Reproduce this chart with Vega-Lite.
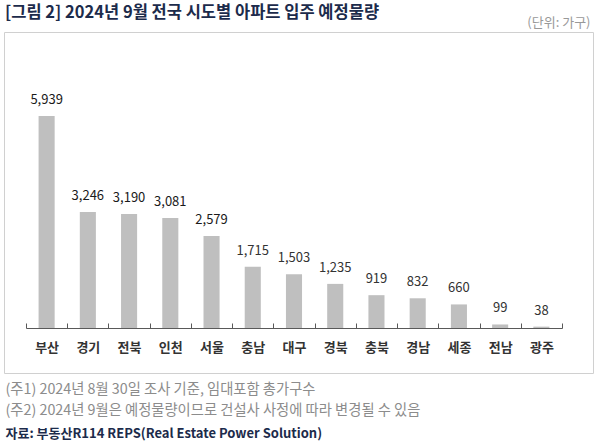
{
  "$schema": "https://vega.github.io/schema/vega-lite/v6.json",
  "autosize": "none",
  "width": 589,
  "height": 341,
  "padding": {"left": 4, "top": 32, "right": 7, "bottom": 72},
  "background": "white",
  "config": {
    "font": "Noto Sans CJK KR",
    "view": {"stroke": "#d0d0d0", "strokeWidth": 1}
  },
  "title": {
    "text": "[그림 2] 2024년 9월 전국 시도별 아파트 입주 예정물량",
    "anchor": "start",
    "frame": "group",
    "fontSize": 16.5,
    "fontWeight": "bold",
    "color": "#1c2b4b",
    "offset": -5,
    "dx": 1
  },
  "data": {
    "values": [
      {"region": "부산", "v": 5939},
      {"region": "경기", "v": 3246},
      {"region": "전북", "v": 3190},
      {"region": "인천", "v": 3081},
      {"region": "서울", "v": 2579},
      {"region": "충남", "v": 1715},
      {"region": "대구", "v": 1503},
      {"region": "경북", "v": 1235},
      {"region": "충북", "v": 919},
      {"region": "경남", "v": 832},
      {"region": "세종", "v": 660},
      {"region": "전남", "v": 99},
      {"region": "광주", "v": 38}
    ]
  },
  "encoding": {
    "x": {
      "field": "region",
      "type": "nominal",
      "sort": null,
      "scale": {"type": "band", "range": [22, 558], "paddingInner": 0, "paddingOuter": 0}
    },
    "y": {
      "field": "v",
      "type": "quantitative",
      "scale": {"domain": [0, 7000], "range": [296, 46], "nice": false, "zero": true}
    }
  },
  "layer": [
    {
      "mark": {"type": "bar", "color": "#bfbfbf", "width": {"band": 0.39}},
      "encoding": {
        "x": {
          "field": "region",
          "type": "nominal",
          "sort": null,
          "axis": {
            "orient": "bottom",
            "offset": -45,
            "tickBand": "extent",
            "domainColor": "#595959",
            "tickColor": "#595959",
            "tickSize": -5,
            "labelAngle": 0,
            "labelPadding": 24,
            "labelBaseline": "middle",
            "labelFontSize": 13,
            "labelFontWeight": "bold",
            "labelColor": "#333333",
            "title": ["(주1) 2024년 8월 30일 조사 기준, 임대포함 총가구수", "(주2) 2024년 9월은 예정물량이므로 건설사 사정에 따라 변경될 수 있음"],
            "titleX": 1,
            "titleY": 54,
            "titleAlign": "left",
            "titleAnchor": null,
            "titleBaseline": "top",
            "titleLineHeight": 21,
            "titleFontSize": 14.3,
            "titleFontWeight": "normal",
            "titleColor": "#8c8c8c"
          }
        },
        "y": {
          "field": "v",
          "type": "quantitative",
          "axis": {
            "orient": "left",
            "labels": false,
            "ticks": false,
            "domain": false,
            "grid": false,
            "title": "(단위: 가구)",
            "titleAngle": 0,
            "titleAlign": "right",
            "titleBaseline": "middle",
            "titleX": 586,
            "titleY": -10,
            "titleFontSize": 13,
            "titleFontWeight": "normal",
            "titleColor": "#999999"
          }
        }
      }
    },
    {
      "mark": {"type": "text", "baseline": "middle", "dy": -16, "fontSize": 13},
      "encoding": {
        "text": {"field": "v", "type": "quantitative", "format": ","},
        "fontWeight": {"condition": {"test": "datum.v >= 2500", "value": "bold"}, "value": "normal"},
        "color": {"condition": {"test": "datum.v >= 2500", "value": "#1a1a1a"}, "value": "#333333"},
        "y": {
          "field": "v",
          "type": "quantitative",
          "axis": {
            "orient": "right",
            "labels": false,
            "ticks": false,
            "domain": false,
            "grid": false,
            "title": "자료: 부동산R114 REPS(Real Estate Power Solution)",
            "titleAngle": 0,
            "titleAlign": "left",
            "titleBaseline": "middle",
            "titleX": -588,
            "titleY": 401,
            "titleFontSize": 13,
            "titleFontWeight": "bold",
            "titleColor": "#1c2b4b"
          }
        }
      }
    }
  ],
  "resolve": {"axis": {"y": "independent"}}
}
